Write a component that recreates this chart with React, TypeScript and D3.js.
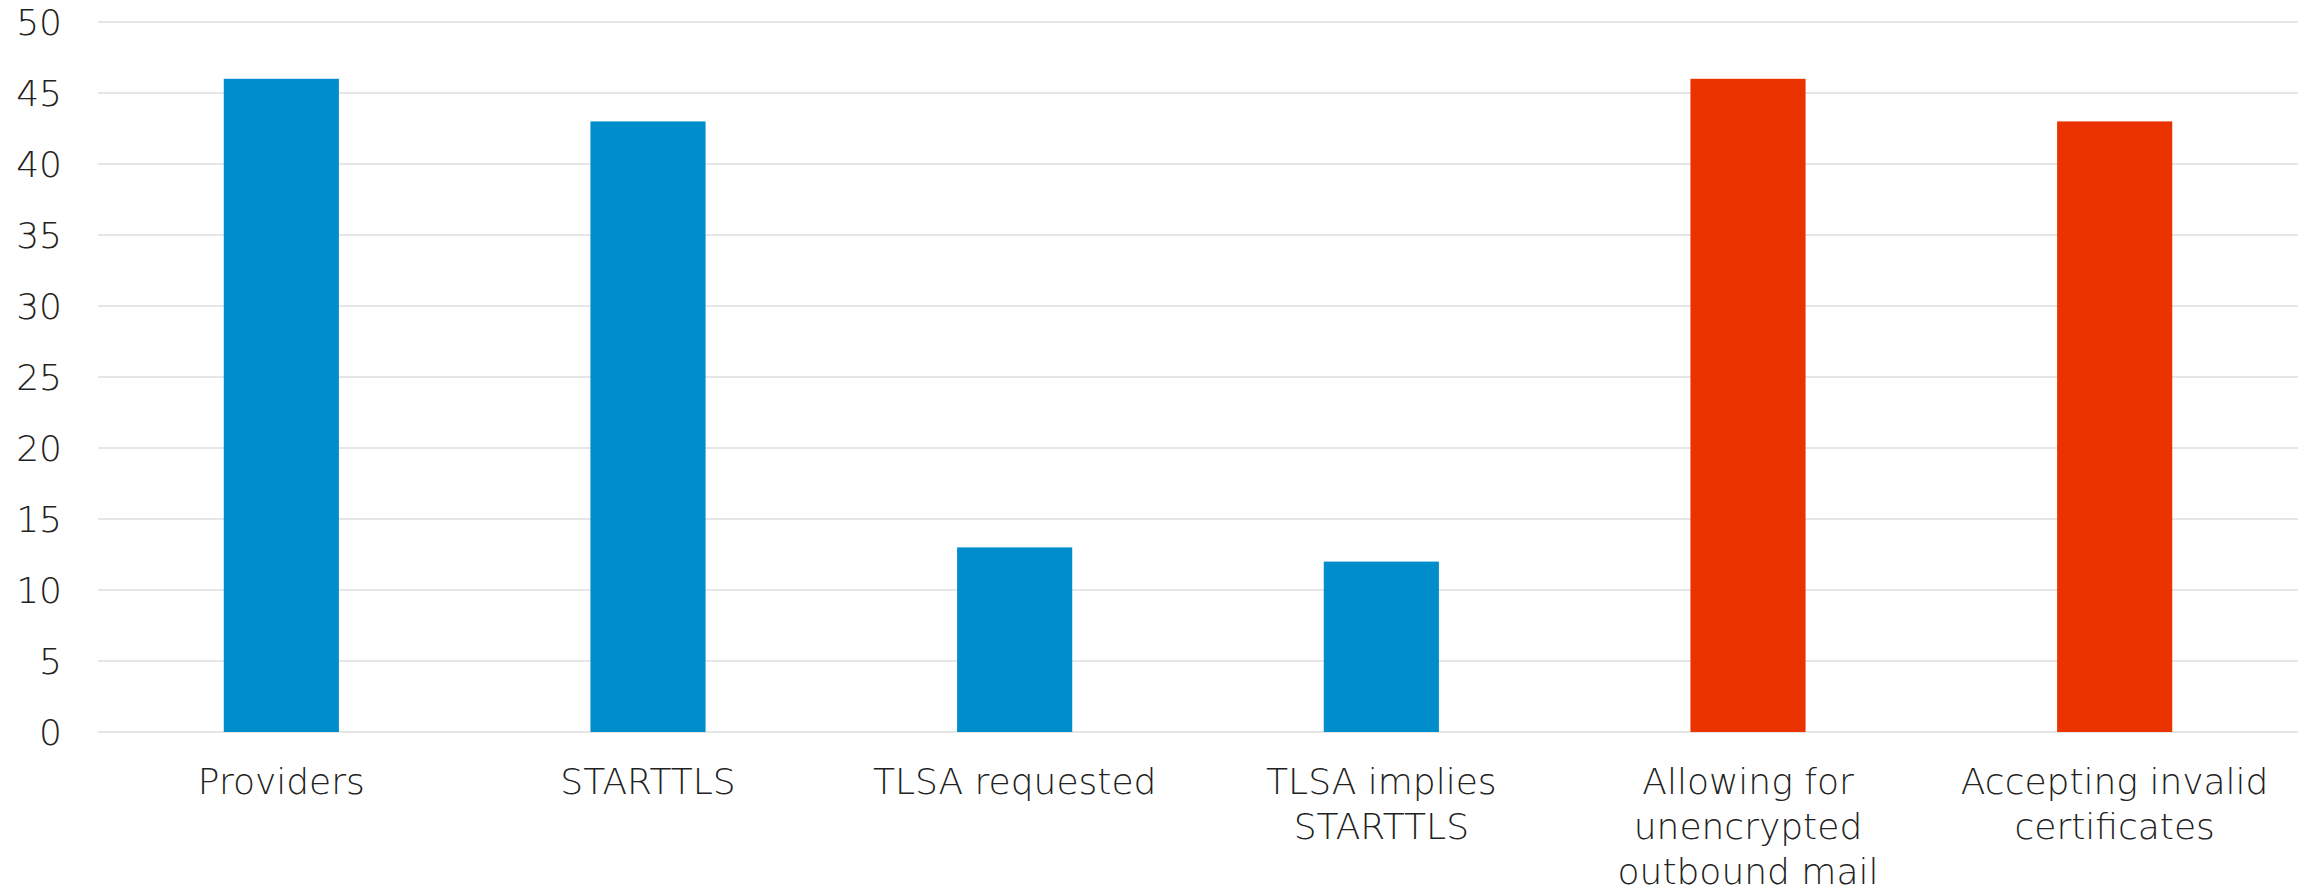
import React from 'react';
import * as d3 from 'd3';

// Chart data
const categories = [
  'Providers',
  'STARTTLS',
  'TLSA requested',
  'TLSA implies STARTTLS',
  'Allowing for unencrypted outbound mail',
  'Accepting invalid certificates',
];
// How each category label wraps under the axis
const labelLines = [
  ['Providers'],
  ['STARTTLS'],
  ['TLSA requested'],
  ['TLSA implies', 'STARTTLS'],
  ['Allowing for', 'unencrypted', 'outbound mail'],
  ['Accepting invalid', 'certificates'],
];
const values = [46, 43, 13, 12, 46, 43];
const highlighted = [false, false, false, false, true, true];
const yTicks = [0, 5, 10, 15, 20, 25, 30, 35, 40, 45, 50];

const width = 2315;
const height = 892;
const margin = {
  top: 22, right: 17, bottom: 160, left: 98,
};
const fontFamily = '"DejaVu Sans", sans-serif';
const blue = '#008dcb';
const red = '#eb3300';

const App: React.FC = () => {
  const chartWidth = width - margin.left - margin.right;
  const chartHeight = height - margin.top - margin.bottom;

  const x = d3.scaleBand<string>()
    .domain(categories)
    .range([0, chartWidth])
    .paddingInner(0.686)
    .paddingOuter(0.343);
  const y = d3.scaleLinear()
    .domain([0, 50])
    .range([chartHeight, 0]);

  return (
    <div style={{ position: 'absolute', left: 0, top: 0 }}>
      <svg width={width} height={height} style={{ display: 'block', background: '#fff' }}>
        <g transform={`translate(${margin.left},${margin.top})`}>
          {/* grid lines */}
          {yTicks.map((t) => (
            <line
              key={`g${t}`}
              x1={0}
              x2={chartWidth}
              y1={y(t)}
              y2={y(t)}
              stroke="#dedede"
              strokeWidth={1.6}
            />
          ))}
          {/* y labels */}
          {yTicks.map((t) => (
            <text
              key={`t${t}`}
              x={-36}
              y={y(t)}
              dy="0.36em"
              textAnchor="end"
              fontFamily={fontFamily}
              fontSize={36}
              fontWeight={300}
              fill="#222"
            >
              {t}
            </text>
          ))}
          {/* bars */}
          {categories.map((c, i) => (
            <rect
              key={c}
              x={x(c)}
              y={y(values[i])}
              width={x.bandwidth()}
              height={chartHeight - y(values[i])}
              fill={highlighted[i] ? red : blue}
            />
          ))}
          {/* category labels */}
          {categories.map((c, i) => (
            <text
              key={`l${c}`}
              x={(x(c) ?? 0) + x.bandwidth() / 2}
              y={chartHeight + 62}
              textAnchor="middle"
              fontFamily={fontFamily}
              fontSize={36}
              fontWeight={300}
              fill="#222"
            >
              {labelLines[i].map((line, j) => (
                <tspan key={line} x={(x(c) ?? 0) + x.bandwidth() / 2} dy={j === 0 ? 0 : 45}>
                  {line}
                </tspan>
              ))}
            </text>
          ))}
        </g>
      </svg>
    </div>
  );
};

export default App;
